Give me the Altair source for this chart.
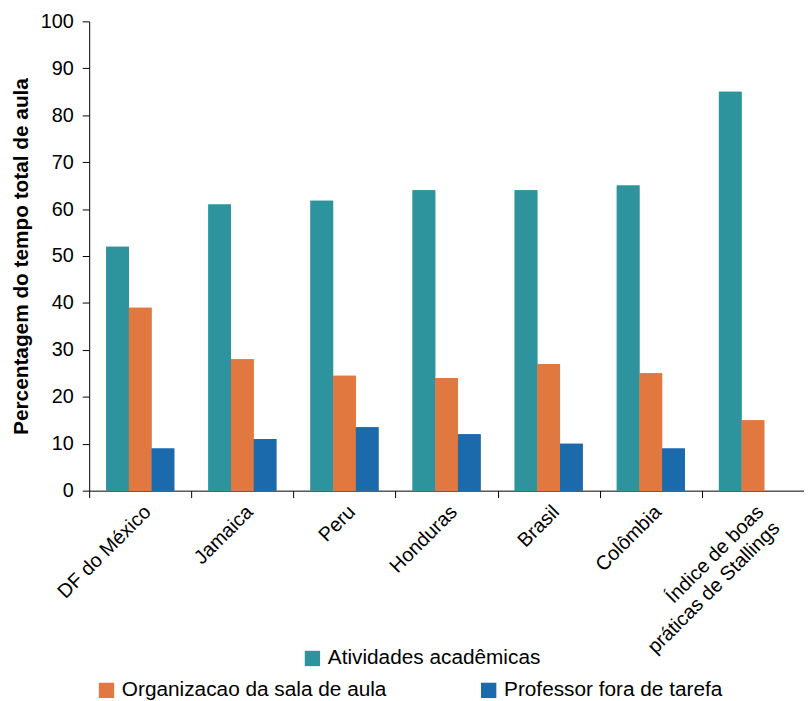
import altair as alt
import pandas as pd

categories = ["DF do México", "Jamaica", "Peru", "Honduras", "Brasil", "Colômbia",
              "Índice de boas\npráticas de Stallings"]
series = ["Atividades acadêmicas", "Organizacao da sala de aula", "Professor fora de tarefa"]
atividades = [52, 61, 61.8, 64, 64, 65, 85]
organizacao = [39, 28, 24.5, 24, 27, 25, 15]
professor = [9, 11, 13.5, 12, 10, 9, None]
colors = ["#2D949E", "#E07840", "#1B6AAC"]
y_ticks = [0, 10, 20, 30, 40, 50, 60, 70, 80, 90, 100]

rows = []
for vals, s in zip([atividades, organizacao, professor], series):
    for c, v in zip(categories, vals):
        if v is not None:
            rows.append({"categoria": c, "serie": s, "valor": v})
df = pd.DataFrame(rows)

FONT = "Liberation Sans"

base = alt.Chart(df).mark_bar().encode(
    x=alt.X("categoria:N", sort=categories,
            scale=alt.Scale(paddingInner=0, paddingOuter=0),
            axis=alt.Axis(title=None, labelAngle=-45, labelFontSize=20, labelColor="black",
                          tickBand="extent", tickSize=7, tickColor="black", domainColor="black",
                          labelPadding=4, labelFont=FONT, labelLineHeight=23, labelLimit=0,
                          labelExpr="split(datum.label, '\\n')")),
    xOffset=alt.XOffset("serie:N", sort=series,
                        scale=alt.Scale(domain=series, paddingInner=0, paddingOuter=0.75)),
    y=alt.Y("valor:Q", scale=alt.Scale(domain=[0, 100], nice=False),
            axis=alt.Axis(title="Percentagem do tempo total de aula", values=y_ticks,
                          labelFontSize=20, labelColor="black", labelFont=FONT,
                          tickSize=7, tickColor="black", domainColor="black", labelPadding=9,
                          titleFontSize=21, titleFont=FONT, titleFontWeight="bold",
                          titleColor="black", titlePadding=9, grid=False)),
)

leg_common = dict(title=None, orient="none", symbolType="square", symbolSize=240,
                  labelFontSize=21, labelFont=FONT, labelColor="black", labelOffset=5,
                  labelLimit=0, direction="horizontal", symbolStrokeWidth=0)

layer1 = base.encode(
    color=alt.Color("serie:N", scale=alt.Scale(domain=series, range=colors),
                    legend=alt.Legend(values=[series[0]], legendX=215, legendY=633, **leg_common))
)
layer2 = base.encode(
    color=alt.Color("serie:N", scale=alt.Scale(domain=series, range=colors),
                    legend=alt.Legend(values=series[1:], legendX=7, legendY=665, columns=2,
                                      columnPadding=92, **leg_common))
)

chart = alt.layer(layer1, layer2).resolve_scale(color="independent").properties(
    width=722, height=474,
    autosize=alt.AutoSizeParams(type="none"),
    padding={"left": 82, "top": 10, "right": 0, "bottom": 214},
).configure_view(stroke=None)

chart.save("out.html", embed_options={"renderer": "svg", "actions": False})
